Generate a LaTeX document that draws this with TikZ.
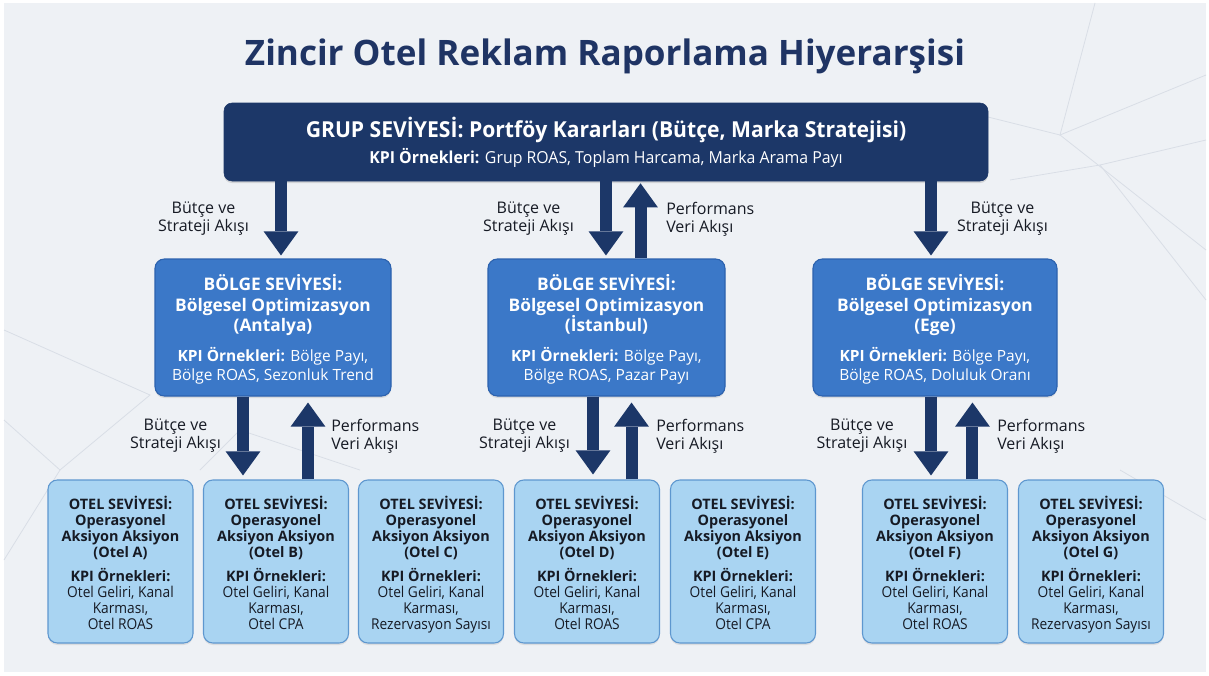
\documentclass[tikz,border=0pt]{standalone}
\usepackage{fontspec}
\setmainfont{Open Sans}
\newfontfamily\condfont[FakeStretch=0.96]{Open Sans}
\newfontfamily\narrowfont[FakeStretch=0.92]{Open Sans}
\usetikzlibrary{arrows.meta,shadows,calc}
\definecolor{bg}{HTML}{EEF1F5}
\definecolor{navy}{HTML}{1C3768}
\definecolor{midblue}{HTML}{3B78C8}
\definecolor{midborder}{HTML}{2C62AE}
\definecolor{lightblue}{HTML}{A9D4F2}
\definecolor{lightborder}{HTML}{5E97CF}
\definecolor{titlecol}{HTML}{1F3464}
\definecolor{txtdark}{HTML}{161A24}
\definecolor{netline}{HTML}{D9DEE6}
\tikzset{
  titlestyle/.style={text=titlecol, font=\fontsize{26.3}{32}\selectfont\bfseries, inner sep=0pt},
  topbox/.style={draw=navy, fill=navy, rounded corners=6pt, minimum width=573pt, minimum height=58.5pt,
    text=white, align=center, inner sep=0pt, drop shadow={opacity=0.25, shadow xshift=0pt, shadow yshift=-1.5pt}},
  regbox/.style={draw=midborder, fill=midblue, line width=0.8pt, rounded corners=7pt, minimum height=102.75pt,
    text=white, align=center, inner sep=0pt, font=\fontsize{13}{15.4}\selectfont,
    drop shadow={opacity=0.2, shadow xshift=0pt, shadow yshift=-1.5pt}},
  hotelbox/.style={draw=lightborder, fill=lightblue, line width=0.8pt, rounded corners=7pt,
    minimum width=108.75pt, minimum height=122.25pt, text=txtdark, align=center, inner sep=0pt,
    font=\fontsize{10.8}{11.9}\selectfont, drop shadow={opacity=0.18, shadow xshift=0pt, shadow yshift=-1.5pt}},
  flow/.style={draw=navy, line width=9pt, -{Triangle[width=26pt,length=18pt,line width=0pt]}},
  lbl/.style={text=txtdark, font=\fontsize{12}{13.5}\selectfont, inner sep=0pt},
  lblc/.style={lbl, align=center},
  lbll/.style={lbl, align=left, anchor=west},
  net/.style={draw=netline, line width=0.6pt}
}
\newcommand{\regtext}[2]{\rule{0pt}{15pt}\textbf{BÖLGE SEVİYESİ:}\\\textbf{Bölgesel Optimizasyon}\\\textbf{(#1)}\\[7pt]{\fontsize{11.6}{13.5}\selectfont\textbf{KPI Örnekleri:} Bölge Payı,}\\[-1.5pt]{\fontsize{11.6}{13.5}\selectfont #2\vphantom{y}}}
\newcommand{\oteltext}[2]{\rule{0pt}{15pt}\textbf{OTEL SEVİYESİ:}\\\textbf{Operasyonel}\\\textbf{Aksiyon Aksiyon}\\\textbf{(Otel #1)}\\[6.5pt]\textbf{KPI Örnekleri:}\\{\narrowfont\fontsize{11.2}{11.9}\selectfont Otel Geliri, Kanal}\\{\narrowfont\fontsize{11.2}{11.9}\selectfont Karması,}\\{\narrowfont\fontsize{11.2}{11.9}\selectfont #2\vphantom{y}}}
\begin{document}
\begin{tikzpicture}[x=0.75pt,y=-0.75pt]
\useasboundingbox (0,0) rectangle (1209,675);
\fill[white] (0,0) rectangle (1209,675);
\fill[bg] (4,3) rectangle (1206,672);
% faint background network
\draw[net] (1095,3) -- (1060,135) -- (1206,75);
\draw[net] (960,110) -- (1060,135) -- (1206,250);
\draw[net] (1010,180) -- (1100,165) -- (1206,300);
\draw[net] (1100,165) -- (1206,140);
\draw[net] (4,330) -- (150,395) -- (60,470);
\draw[net] (4,560) -- (60,470) -- (4,420);
\draw[net] (200,470) -- (240,430) -- (360,470);
\draw[net] (1120,470) -- (1206,520);
% title
\node[titlestyle, anchor=base] (title) at (605,65) {Zincir Otel Reklam Raporlama Hiyerarşisi};
% top box
\node[topbox] (top) at (606,142) {{\condfont\fontsize{16.5}{19}\selectfont\bfseries GRUP SEVİYESİ: Portföy Kararları (Bütçe, Marka Stratejisi)}\\[3pt]
  {\condfont\fontsize{12.4}{14}\selectfont\textbf{KPI Örnekleri:} Grup ROAS, Toplam Harcama, Marka Arama Payı}};
% region boxes
\node[regbox, minimum width=177pt] (rA) at (273,327.5) {\regtext{Antalya}{Bölge ROAS, Sezonluk Trend}};
\node[regbox, minimum width=177.75pt] (rI) at (606.5,327.5) {\regtext{İstanbul}{Bölge ROAS, Pazar Payı}};
\node[regbox, minimum width=183pt] (rE) at (935,327.5) {\regtext{Ege}{Bölge ROAS, Doluluk Oranı}};
% hotel boxes
\node[hotelbox] (hA) at (120.5,561.5) {\oteltext{A}{Otel ROAS}};
\node[hotelbox] (hB) at (276,561.5) {\oteltext{B}{Otel CPA}};
\node[hotelbox] (hC) at (431,561.5) {\oteltext{C}{Rezervasyon Sayısı}};
\node[hotelbox] (hD) at (587,561.5) {\oteltext{D}{Otel ROAS}};
\node[hotelbox] (hE) at (743,561.5) {\oteltext{E}{Otel CPA}};
\node[hotelbox] (hF) at (935,561.5) {\oteltext{F}{Otel ROAS}};
\node[hotelbox] (hG) at (1091,561.5) {\oteltext{G}{Rezervasyon Sayısı}};
% arrows top -> regions
\draw[flow] ($(rA.north|-top.south)+(6pt,0)$) -- ($(rA.north)+(6pt,2.25pt)$);
\draw[flow] ($(rI.north|-top.south)+(-0.4pt,0)$) -- ($(rI.north)+(-0.4pt,2.25pt)$);
\draw[flow] ($(rI.north)+(25.5pt,0)$) -- ($(rI.north|-top.south)+(25.5pt,-1.5pt)$);
\draw[flow] ($(rE.north|-top.south)+(-3pt,0)$) -- ($(rE.north)+(-3pt,2.25pt)$);
% arrows regions <-> hotels
\draw[flow] ($(hB.north|-rA.south)+(-24.75pt,0)$) -- ($(hB.north)+(-24.75pt,3pt)$);
\draw[flow] ($(hB.north)+(24pt,0)$) -- ($(hB.north|-rA.south)+(24pt,-4.5pt)$);
\draw[flow] ($(hD.north|-rI.south)+(4.5pt,0)$) -- ($(hD.north)+(4.5pt,3.75pt)$);
\draw[flow] ($(hD.north)+(33.4pt,0)$) -- ($(hD.north|-rI.south)+(33.4pt,-4.5pt)$);
\draw[flow] ($(hF.north|-rE.south)+(-3pt,0)$) -- ($(hF.north)+(-3pt,3pt)$);
\draw[flow] ($(hF.north)+(28.1pt,0)$) -- ($(hF.north|-rE.south)+(28.1pt,-4.5pt)$);
% labels
\node[lblc] (l1) at (203.5,219) {Bütçe ve\\Strateji Akışı};
\node[lblc] (l2) at (528.5,219) {Bütçe ve\\Strateji Akışı};
\node[lbll] (l3) at (666,219) {Performans\\Veri Akışı};
\node[lblc] (l4) at (1002.5,219) {Bütçe ve\\Strateji Akışı};
\node[lblc] (l5) at (175.5,436) {Bütçe ve\\Strateji Akışı};
\node[lbll] (l6) at (331,436) {Performans\\Veri Akışı};
\node[lblc] (l7) at (524.5,436) {Bütçe ve\\Strateji Akışı};
\node[lbll] (l8) at (656,436) {Performans\\Veri Akışı};
\node[lblc] (l9) at (862,436) {Bütçe ve\\Strateji Akışı};
\node[lbll] (l10) at (997,436) {Performans\\Veri Akışı};
\end{tikzpicture}
\end{document}
